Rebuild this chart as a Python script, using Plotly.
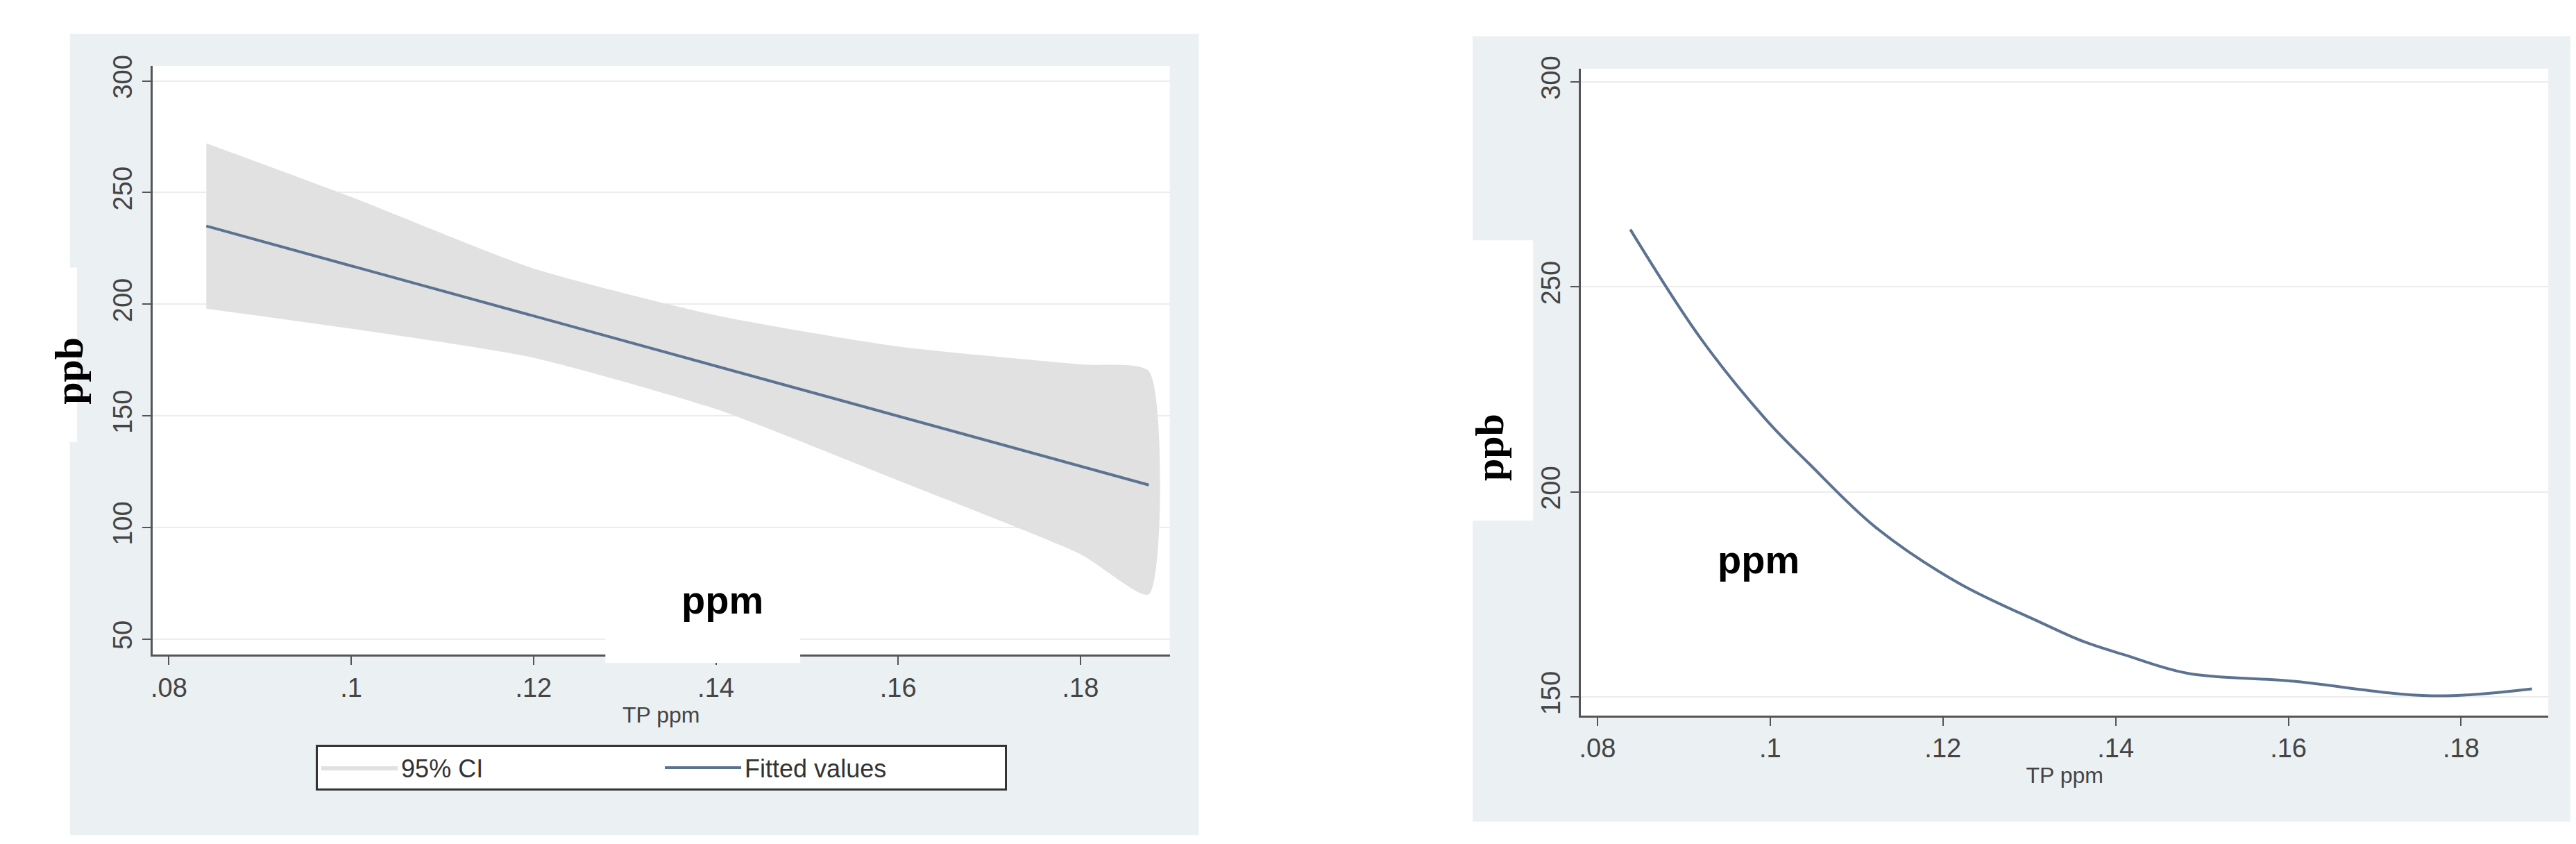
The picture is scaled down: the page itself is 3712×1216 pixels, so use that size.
import plotly.graph_objects as go

# Left panel: linear fit with 95% CI
fit_x = [0.0841, 0.1875]
fit_y = [235, 119]
ci_x = [0.0841, 0.10, 0.12, 0.14, 0.16, 0.18, 0.1875]
ci_upper = [272, 248, 216, 195, 181, 173, 170]
ci_lower = [198, 189, 176, 153, 121, 88, 70]

# Right panel: fitted curve
cur_x = [0.0838, 0.092, 0.0997, 0.1045, 0.1122, 0.1218, 0.1314, 0.1362, 0.141, 0.1483, 0.1603, 0.1766, 0.1882]
cur_y = [264, 237.3, 217.2, 206.9, 191.4, 177.8, 168.1, 163.6, 160.3, 155.8, 153.9, 150.3, 152]

xticks = [0.08, 0.10, 0.12, 0.14, 0.16, 0.18]
xtick_labels = [".08", ".1", ".12", ".14", ".16", ".18"]

LINE = "#5b7391"
CI = "#e1e1e1"
BG = "#ebf0f3"

fig = go.Figure()
poly_x = ci_x + ci_x[::-1]
poly_y = ci_upper + ci_lower[::-1]
fig.add_trace(go.Scatter(x=poly_x, y=poly_y, mode="lines", line=dict(width=0, shape="spline", smoothing=0.6),
                         fill="toself", fillcolor=CI, name="95% CI", xaxis="x", yaxis="y"))
fig.add_trace(go.Scatter(x=fit_x, y=fit_y, mode="lines", line=dict(color=LINE, width=4), name="Fitted values", xaxis="x", yaxis="y"))
fig.add_trace(go.Scatter(x=cur_x, y=cur_y, mode="lines", line=dict(color=LINE, width=4, shape="spline"), showlegend=False, xaxis="x2", yaxis="y2"))

tickfont = dict(family="Liberation Sans Narrow, Liberation Sans", size=38, color="#444")
axcommon = dict(showline=True, linecolor="#555", linewidth=3, ticks="outside", ticklen=12, tickcolor="#555", tickwidth=2, tickfont=tickfont, zeroline=False)

fig.update_layout(
    width=3712, height=1216, margin=dict(l=0, r=0, t=0, b=0),
    paper_bgcolor="white", plot_bgcolor="rgba(0,0,0,0)",
    xaxis=dict(domain=[0.0563, 0.4515], range=[0.0782, 0.1898], tickvals=xticks, ticktext=xtick_labels, showgrid=False,
               title=dict(text="TP ppm", font=dict(family="Liberation Sans Narrow, Liberation Sans", size=32, color="#444"), standoff=8), anchor="y", **axcommon),
    yaxis=dict(domain=[0.2344, 0.9424], range=[43, 306.7], tickvals=[50, 100, 150, 200, 250, 300], tickangle=-90,
               showgrid=True, gridcolor="#ececec", gridwidth=2, anchor="x", **axcommon),
    xaxis2=dict(domain=[0.6113, 0.9871], range=[0.0781, 0.1901], tickvals=xticks, ticktext=xtick_labels, showgrid=False,
                title=dict(text="TP ppm", font=dict(family="Liberation Sans Narrow, Liberation Sans", size=32, color="#444"), standoff=8), anchor="y2", **axcommon),
    yaxis2=dict(domain=[0.1612, 0.9391], range=[145.5, 303.2], tickvals=[150, 200, 250, 300], tickangle=-90,
                showgrid=True, gridcolor="#ececec", gridwidth=2, anchor="x2", **axcommon),
    legend=dict(orientation="h", traceorder="normal", x=0.254, xanchor="center", y=0.126, yanchor="top", bordercolor="#333", borderwidth=3,
                bgcolor="white", font=dict(family="Liberation Sans Narrow, Liberation Sans", size=36, color="#333"),
                itemwidth=110, entrywidth=370, entrywidthmode="pixels"),
    shapes=[
        dict(type="rect", xref="paper", yref="paper", x0=0.0242, x1=0.4628, y0=0.0173, y1=0.981, fillcolor=BG, line=dict(width=0), layer="below"),
        dict(type="rect", xref="paper", yref="paper", x0=0.0563, x1=0.4515, y0=0.2344, y1=0.9424, fillcolor="white", line=dict(width=0), layer="below"),
        dict(type="rect", xref="paper", yref="paper", x0=0.5692, x1=0.9982, y0=0.0337, y1=0.978, fillcolor=BG, line=dict(width=0), layer="below"),
        dict(type="rect", xref="paper", yref="paper", x0=0.6113, x1=0.9871, y0=0.1612, y1=0.9391, fillcolor="white", line=dict(width=0), layer="below"),
        dict(type="rect", xref="paper", yref="paper", x0=862/3712, x1=1143/3712, y0=1-943/1216, y1=1-853/1216, fillcolor="white", line=dict(width=0), layer="above"),
        dict(type="rect", xref="paper", yref="paper", x0=0, x1=100/3712, y0=1-620/1216, y1=1-365/1216, fillcolor="white", line=dict(width=0), layer="below"),
        dict(type="rect", xref="paper", yref="paper", x0=2100/3712, x1=2200/3712, y0=1-735/1216, y1=1-325/1216, fillcolor="white", line=dict(width=0), layer="below"),
    ],
    annotations=[
        dict(text="<b>ppb</b>", xref="paper", yref="paper", x=54/3712, y=1-516/1216, showarrow=False, textangle=-90,
             font=dict(family="Liberation Serif", size=58, color="black")),
        dict(text="<b>ppb</b>", xref="paper", yref="paper", x=2137/3712, y=1-628/1216, showarrow=False, textangle=-90,
             font=dict(family="Liberation Serif", size=58, color="black")),
        dict(text="<b>ppm</b>", xref="paper", yref="paper", x=970/3712, y=1-885/1216, showarrow=False,
             font=dict(family="Liberation Sans Narrow, Liberation Sans", size=56, color="black")),
        dict(text="<b>ppm</b>", xref="paper", yref="paper", x=2586/3712, y=1-826/1216, showarrow=False,
             font=dict(family="Liberation Sans Narrow, Liberation Sans", size=56, color="black")),
    ],
)

fig.write_html("out.html")
